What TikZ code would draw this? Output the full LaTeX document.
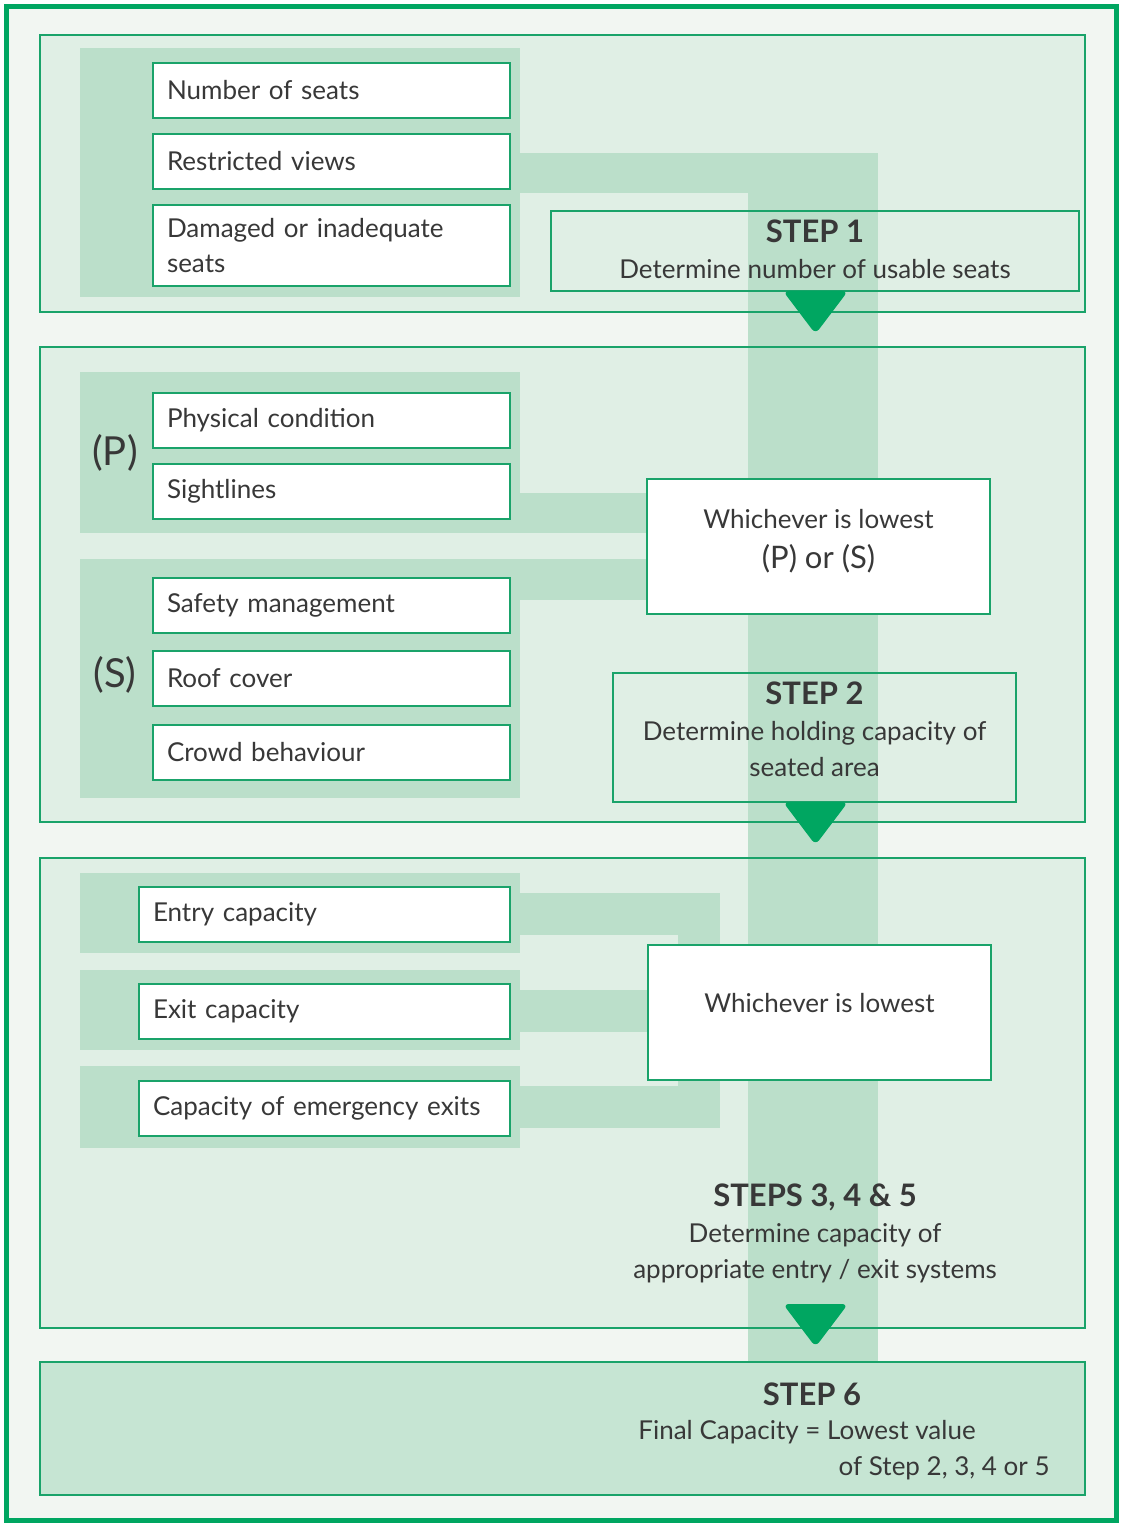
\documentclass[tikz,border=0pt]{standalone}
\usepackage{fontspec}
\setmainfont{Lato}
\usepackage{xcolor}
\usepackage{tikz}
\usetikzlibrary{positioning}

\definecolor{lineGreen}{HTML}{1AA36A}
\definecolor{arrowGreen}{HTML}{00A661}
\definecolor{pageBg}{HTML}{F2F6F2}
\definecolor{secBg}{HTML}{E0EFE5}
\definecolor{bandGreen}{HTML}{BBDFCA}
\definecolor{lastBg}{HTML}{C6E5D3}
\definecolor{inkGrey}{HTML}{383838}

\newcommand{\stephead}[1]{{\bfseries\fontsize{15.5}{18.5}\selectfont #1}}

\begin{document}
\begin{tikzpicture}[x=0.5pt,y=-0.5pt,
    every node/.append style={text=inkGrey},
    section/.style={draw=lineGreen,line width=1pt},
    band/.style={fill=bandGreen},
    panel/.style={fill=bandGreen,inner sep=0pt,minimum width=220pt},
    factor/.style={draw=lineGreen,line width=1pt,fill=white,anchor=north west,
        minimum height=27.5pt,text width=164.5pt,inner xsep=7pt,align=left,
        font=\fontsize{13}{17.5}\selectfont},
    stepbox/.style={draw=lineGreen,line width=1pt,align=center,inner sep=0pt},
    lowbox/.style={draw=lineGreen,line width=1pt,fill=white,inner sep=0pt},
    plain/.style={font=\fontsize{13}{18}\selectfont,inner sep=0pt},
    downarrow/.style={fill=arrowGreen,rounded corners=3pt}
  ]
  \useasboundingbox (0,0) rectangle (1121,1524);
  \fill[white] (0,0) rectangle (1121,1524);
  \filldraw[fill=pageBg,draw=arrowGreen,line width=2.5pt] (6.5,6.5) rectangle (1116.5,1520);

  % section backgrounds
  \fill[secBg] (40,35) rectangle (1085,312);
  \fill[secBg] (40,347) rectangle (1085,822);
  \fill[secBg] (40,858) rectangle (1085,1328);
  \fill[lastBg] (40,1362) rectangle (1085,1495);

  % grouping panels
  \node[panel,minimum height=124.5pt] (panelA) at (300,172.5) {};
  \node[panel,minimum height=80.5pt] (panelP) at (300,452.5) {};
  \node[panel,minimum height=119.5pt] (panelS) at (300,678.5) {};
  \node[panel,minimum height=40pt] (panelE) at (300,913) {};
  \node[panel,minimum height=40pt] (panelX) at (300,1010) {};
  \node[panel,minimum height=41pt] (panelC) at (300,1107) {};

  % main spine
  \coordinate (spineTop) at (813,153);
  \fill[band] (spineTop) ++(-65,0) rectangle (878,1362);
  \fill[band] (panelA.east |- 0,153) rectangle (878,193);

  % boxes on the right
  \node[lowbox,minimum width=171.5pt,minimum height=67.5pt] (lowPS) at (818.5,546.5) {};
  \node[lowbox,minimum width=171.5pt,minimum height=67.5pt] (lowEX) at (819.5,1012.5) {};

  % links from the panels
  \fill[band] (panelP.east |- 0,493) rectangle (lowPS.west |- 0,533);
  \fill[band] (panelS.east |- 0,559) rectangle (lowPS.west |- 0,600);
  \fill[band] (panelE.east |- 0,893) rectangle (720,935);
  \fill[band] (678,893) rectangle (720,1128);
  \fill[band] (panelC.east |- 0,1086) rectangle (720,1128);
  \fill[band] (panelX.east |- 0,990) rectangle (lowEX.west |- 0,1032);
  \node[lowbox,minimum width=171.5pt,minimum height=67.5pt] at (lowEX) {};
  \node[lowbox,minimum width=171.5pt,minimum height=67.5pt] at (lowPS) {};

  % section borders
  \draw[section] (40,35) rectangle (1085,312);
  \draw[section] (40,347) rectangle (1085,822);
  \draw[section] (40,858) rectangle (1085,1328);
  \draw[section] (40,1362) rectangle (1085,1495);

  % step 1
  \node[factor] (seats) at (152,62) {Number of seats};
  \node[factor] (views) at (152,133) {Restricted views};
  \node[factor,minimum height=40.5pt] (damaged) at (152,204) {Damaged or inadequate\\seats};
  \node[stepbox,minimum width=264pt,minimum height=40pt] (stepA) at (815,251) {};
  \node[plain,align=center] (stepAtxt) at (815,249)
    {\stephead{STEP 1}\\Determine number of usable seats};

  % step 2
  \node[font=\fontsize{20}{20}\selectfont,inner sep=0pt] (labP) at (115,453) {(P)};
  \node[font=\fontsize{20}{20}\selectfont,inner sep=0pt] (labS) at (115,675) {(S)};
  \node[factor] (physical) at (152,392) {Physical condition};
  \node[factor] (sight) at (152,463) {Sightlines};
  \node[factor] (safety) at (152,577) {Safety management};
  \node[factor] (roof) at (152,650) {Roof cover};
  \node[factor] (crowd) at (152,724) {Crowd behaviour};
  \node[plain] (lowTxtA) at (818.5,519) {Whichever is lowest};
  \node[plain,font=\fontsize{15.5}{15.5}\selectfont] (lowTxtB) at (818.5,559) {(P) or (S)};
  \node[stepbox,minimum width=201.5pt,minimum height=64.5pt] (stepB) at (814.5,737.5) {};
  \node[plain,align=center] (stepBtxt) at (814.5,729)
    {\stephead{STEP 2}\\Determine holding capacity of\\seated area};

  % steps 3, 4 and 5
  \node[factor,text width=171.5pt] (entry) at (138,886) {Entry capacity};
  \node[factor,text width=171.5pt] (exit) at (138,983) {Exit capacity};
  \node[factor,text width=171.5pt] (emergency) at (138,1080) {Capacity of emergency exits};
  \node[plain] (lowTxtC) at (819.5,1003) {Whichever is lowest};
  \node[plain,align=center] (stepC) at (815,1233)
    {\stephead{STEPS 3, 4 \& 5}\\Determine capacity of\\appropriate entry / exit systems};

  % step 6
  \node[plain] (stepD) at (812,1394) {\stephead{STEP 6}};
  \node[plain,anchor=west] (finalA) at (638,1432) {Final Capacity = Lowest value};
  \node[plain,anchor=east] (finalB) at (1050,1468) {of Step 2, 3, 4 or 5};

  % arrow heads on the spine
  \foreach \t in {291,802,1304}
    \fill[downarrow] (783,\t) -- (848,\t) -- (815.5,{\t+43}) -- cycle;
\end{tikzpicture}
\end{document}
